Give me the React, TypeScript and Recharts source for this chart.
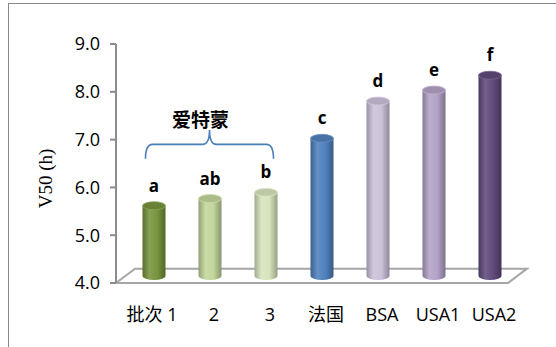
import { BarChart, Bar, XAxis, YAxis, ReferenceArea, LabelList } from "recharts";

const categories = ["批次 1", "2", "3", "法国", "BSA", "USA1", "USA2"];
const v50Values = [5.47, 5.62, 5.75, 6.88, 7.66, 7.89, 8.2];
const letters = ["a", "ab", "b", "c", "d", "e", "f"];
const barColors = ["#77933C", "#C3D69B", "#D7E4BD", "#4F81BD", "#CCC1DA", "#B3A2C7", "#604A7B"];
const yTicks = [4, 5, 6, 7, 8, 9];
const groupLabel = "爱特蒙";
const groupFrom = "批次 1";
const groupTo = "3";

const data = categories.map((name, i) => ({ name, v50: v50Values[i], letter: letters[i] }));

// fake 3D: bars sit mid-depth on the floor
const DX = 9.5;
const DY = 7;
const FLOOR_SHIFT = 19;

const FONT = "'Open Sans', 'Noto Sans CJK SC', sans-serif";

function shade(hex: string, amt: number) {
  const n = parseInt(hex.slice(1), 16);
  const ch = [(n >> 16) & 255, (n >> 8) & 255, n & 255].map((c) =>
    Math.round(amt < 0 ? c * (1 + amt) : c + (255 - c) * amt)
  );
  return "#" + ch.map((c) => c.toString(16).padStart(2, "0")).join("");
}

function Cylinder(props: any) {
  const { x, y, width, height, index } = props;
  const color = barColors[index];
  const rx = width / 2;
  const ry = 4;
  const left = x + DX;
  const right = left + width;
  const top = y - DY;
  const bottom = y + height - DY;
  return (
    <g>
      <path
        d={`M${left},${top} L${left},${bottom} A${rx},${ry} 0 0 0 ${right},${bottom} L${right},${top} Z`}
        fill={`url(#cyl${index})`}
      />
      <ellipse
        cx={left + rx}
        cy={top}
        rx={rx}
        ry={ry}
        fill={shade(color, -0.12)}
        stroke={shade(color, 0.15)}
        strokeWidth={0.8}
      />
    </g>
  );
}

function Floor(props: any) {
  const { x, y, width, height } = props;
  const front = y + height;
  const pts = [
    [x, front],
    [x + width, front],
    [x + width + FLOOR_SHIFT, y],
    [x + FLOOR_SHIFT, y],
  ]
    .map((p) => p.join(","))
    .join(" ");
  return <polygon points={pts} fill="#fff" stroke="#a6a6a6" strokeWidth={2} />;
}

function Brace(props: any) {
  const { x, y, width, height } = props;
  const x0 = x + DX + 20;
  const x1 = x + width + DX - 20;
  const cx = (x0 + x1) / 2;
  const bottom = y + height;
  const mid = y + height / 2;
  const r = 7;
  const d =
    `M${x0},${bottom} Q${x0},${mid} ${x0 + r},${mid} L${cx - r},${mid} Q${cx},${mid} ${cx},${y} ` +
    `Q${cx},${mid} ${cx + r},${mid} L${x1 - r},${mid} Q${x1},${mid} ${x1},${bottom}`;
  return (
    <g>
      <path d={d} fill="none" stroke="#4A7EBB" strokeWidth={1.6} />
      <text
        x={cx - 9}
        y={y - 3}
        textAnchor="middle"
        fontFamily="'Noto Sans CJK SC', sans-serif"
        fontWeight="bold"
        fontSize={19}
        fill="#000"
      >
        {groupLabel}
      </text>
    </g>
  );
}

function CategoryTick(props: any) {
  const { x, y, payload, index } = props;
  const shift = index === 0 ? 8 : 14;
  return (
    <text x={x + shift} y={y} dy={30} textAnchor="middle" fontFamily={FONT} fontSize={18} fill="#000">
      {payload.value}
    </text>
  );
}

function LetterLabel(props: any) {
  const { x, y, width, value } = props;
  return (
    <text
      x={x + width / 2 + DX}
      y={y - DY - 14}
      textAnchor="middle"
      fontFamily={FONT}
      fontWeight="bold"
      fontSize={17}
      fill="#000"
    >
      {value}
    </text>
  );
}

export default function App() {
  return (
    <div
      style={{
        position: "fixed",
        left: 0,
        top: 0,
        width: 556,
        height: 347,
        overflow: "hidden",
        background: "#fff",
      }}
    >
      <div
        style={{
          position: "absolute",
          left: 8,
          top: 3,
          width: 700,
          height: 500,
          borderLeft: "1.5px solid #8a8a8a",
          borderTop: "1.5px solid #8a8a8a",
        }}
      />
      <BarChart
        width={556}
        height={347}
        data={data}
        margin={{ top: 44, right: 48, left: 56, bottom: 24 }}
        barSize={23}
        style={{ position: "absolute", left: 0, top: 0 }}
      >
        <defs>
          {barColors.map((c, i) => (
            <linearGradient key={i} id={`cyl${i}`} x1="0" y1="0" x2="1" y2="0">
              <stop offset="0%" stopColor={shade(c, -0.25)} />
              <stop offset="30%" stopColor={shade(c, 0.12)} />
              <stop offset="65%" stopColor={c} />
              <stop offset="100%" stopColor={shade(c, -0.3)} />
            </linearGradient>
          ))}
        </defs>
        <ReferenceArea y1={4} y2={4.3} ifOverflow="visible" shape={(p: any) => <Floor {...p} />} />
        <XAxis
          dataKey="name"
          axisLine={false}
          tickLine={false}
          interval={0}
          height={40}
          tick={(p: any) => <CategoryTick {...p} />}
        />
        <YAxis
          domain={[4, 9]}
          ticks={yTicks}
          width={60}
          tickFormatter={(v: number) => v.toFixed(1)}
          axisLine={{ stroke: "#8c8c8c", strokeWidth: 2 }}
          tickLine={{ stroke: "#8c8c8c", strokeWidth: 2 }}
          tickSize={6}
          tickMargin={10}
          tick={{ fontFamily: FONT, fontSize: 18, fill: "#000" }}
          label={{
            content: (p: any) => {
              const vb = p.viewBox;
              const lx = vb.x - 11;
              const ly = vb.y + vb.height / 2 + 15;
              return (
                <text
                  x={lx}
                  y={ly}
                  transform={`rotate(-90 ${lx} ${ly})`}
                  textAnchor="middle"
                  dominantBaseline="central"
                  fontFamily="'Liberation Serif', serif"
                  fontSize={19}
                  fill="#000"
                >
                  V50 (h)
                </text>
              );
            },
          }}
        />
        <Bar dataKey="v50" isAnimationActive={false} shape={(p: any) => <Cylinder {...p} />}>
          <LabelList dataKey="letter" content={(p: any) => <LetterLabel {...p} />} />
        </Bar>
        <ReferenceArea
          x1={groupFrom}
          x2={groupTo}
          y1={6.6}
          y2={7.2}
          ifOverflow="visible"
          shape={(p: any) => <Brace {...p} />}
        />
      </BarChart>
    </div>
  );
}
